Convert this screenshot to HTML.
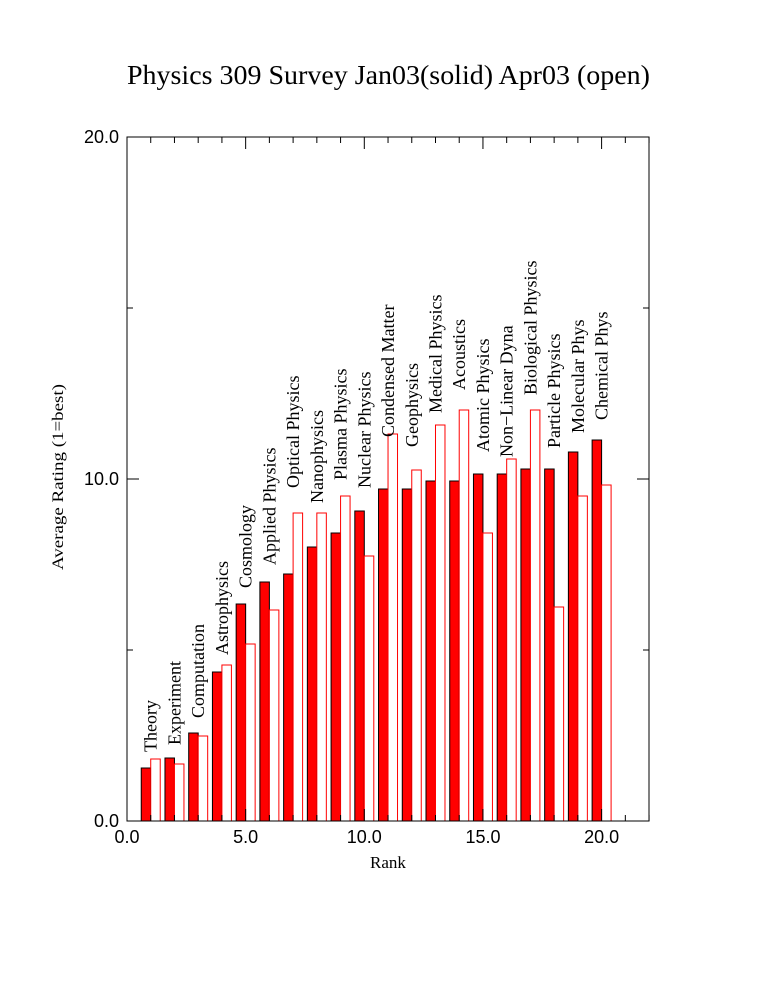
<!DOCTYPE html>
<html><head><meta charset="utf-8"><style>html,body{margin:0;padding:0;background:#fff}svg{display:block}</style></head>
<body>
<svg width="760" height="984" viewBox="0 0 760 984" xmlns="http://www.w3.org/2000/svg">
<rect width="760" height="984" fill="#fff"/>
<text x="127" y="84" font-family="Liberation Serif, serif" font-size="27" textLength="523" lengthAdjust="spacingAndGlyphs">Physics 309 Survey Jan03(solid) Apr03 (open)</text>
<g id="bars"></g>
<rect x="127" y="137" width="522" height="684" fill="none" stroke="#000" stroke-width="1"/>
<g id="ticks" stroke="#000" stroke-width="1"></g>
<g font-family="Liberation Sans, sans-serif" font-size="18" text-anchor="middle">
<text x="127" y="843">0.0</text><text x="245.6" y="843">5.0</text><text x="364.3" y="843">10.0</text><text x="483" y="843">15.0</text><text x="601.6" y="843">20.0</text>
</g>
<g font-family="Liberation Sans, sans-serif" font-size="18" text-anchor="end">
<text x="119" y="827">0.0</text><text x="119" y="485">10.0</text><text x="119" y="143">20.0</text>
</g>
<text x="388" y="868" font-family="Liberation Serif, serif" font-size="17" text-anchor="middle">Rank</text>
<text transform="translate(63,477) rotate(-90)" font-family="Liberation Serif, serif" font-size="16" text-anchor="middle" textLength="186" lengthAdjust="spacingAndGlyphs">Average Rating (1=best)</text>
<g id="labels" font-family="Liberation Serif, serif" font-size="18"></g>
</svg>
<script>
var S=[768,758,733,672,604,582,574,547,533,511,489,489,481,481,474,474,469,469,452,440];
var O=[759,764,736,665,644,610,513,513,496,556,434,470,425,410,533,459,410,607,496,485];
var L=["Theory","Experiment","Computation","Astrophysics","Cosmology","Applied Physics","Optical Physics","Nanophysics","Plasma Physics","Nuclear Physics","Condensed Matter","Geophysics","Medical Physics","Acoustics","Atomic Physics","Non\u2212Linear Dyna","Biological Physics","Particle Physics","Molecular Phys","Chemical Phys"];
var LB=[752,745,718,655,588,565,488,503,480,488,437,447,413,390,452,457,395,448,433,420];
var ns="http://www.w3.org/2000/svg";
function X(u){return 127+23.73*u;}
var b=document.getElementById("bars"),lg=document.getElementById("labels"),tk=document.getElementById("ticks");
function el(p,n,a,t){var e=document.createElementNS(ns,n);for(var k in a)e.setAttribute(k,a[k]);if(t)e.textContent=t;p.appendChild(e);return e;}
for(var i=0;i<20;i++){var r=i+1;
el(b,"rect",{x:X(r-0.4),y:S[i],width:X(r)-X(r-0.4),height:821-S[i],fill:"#f00",stroke:"#000","stroke-width":1});
el(b,"rect",{x:X(r),y:O[i],width:X(r+0.4)-X(r),height:821-O[i],fill:"#fff",stroke:"#f00","stroke-width":1});
var cx=X(r)+6;
el(lg,"text",{transform:"translate("+cx+","+LB[i]+") rotate(-90)"},L[i]);
}
for(var u=0;u<=22;u++){var x=X(u),len=(u%5==0)?12:6;
el(tk,"line",{x1:x,y1:137,x2:x,y2:137+len});el(tk,"line",{x1:x,y1:821,x2:x,y2:821-len});}
[5,10,15].forEach(function(v){var y=821-34.2*v,len=(v%10==0)?12:6;
el(tk,"line",{x1:127,y1:y,x2:127+len,y2:y});el(tk,"line",{x1:649,y1:y,x2:649-len,y2:y});});
</script>
</body></html>
